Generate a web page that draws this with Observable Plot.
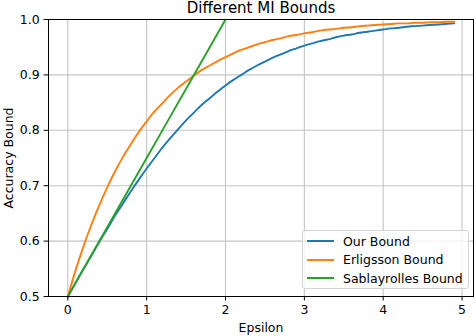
<!DOCTYPE html>
<html>
<head>
<meta charset="utf-8">
<script src="https://cdn.jsdelivr.net/npm/d3@7"></script>
<script src="https://cdn.jsdelivr.net/npm/@observablehq/plot@0.6"></script>
<style>
  html, body { margin: 0; padding: 0; background: white; }
  #wrap { position: relative; width: 476px; height: 336px; font-family: "DejaVu Sans", sans-serif; }
  #legend { position: absolute; left: 302px; top: 230px; width: 165px; height: 57px;
    border: 1px solid #d4d4d4; border-radius: 3px; background: rgba(255,255,255,0.8);
    font-size: 12.5px; color: black; }
  .row { position: absolute; left: 0; height: 18px; display: flex; align-items: center; }
  .sw { width: 27px; height: 2px; margin-left: 4px; margin-right: 9px; }
</style>
</head>
<body>
<div id="wrap"></div>
<script>
const titleText = "Different MI Bounds";
const xLabel = "Epsilon";
const yLabel = "Accuracy Bound";
const seriesNames = ["Our Bound", "Erligsson Bound", "Sablayrolles Bound"];
const seriesColors = ["#1f77b4", "#ff7f0e", "#2ca02c"];
const xTicks = [0, 1, 2, 3, 4, 5];
const yTicks = [0.5, 0.6, 0.7, 0.8, 0.9, 1.0];

const eps = [0,0.1,0.2,0.3,0.4,0.5,0.6,0.7,0.8,0.9,1.0,1.1,1.2,1.3,1.4,1.5,1.6,1.7,1.8,1.9,
  2.0,2.1,2.2,2.3,2.4,2.5,2.6,2.7,2.8,2.9,3.0,3.1,3.2,3.3,3.4,3.5,3.6,3.7,3.8,3.9,
  4.0,4.1,4.2,4.3,4.4,4.5,4.6,4.7,4.8,4.9];
const ourBound = [0.5,0.525,0.550,0.574,0.599,0.622,0.646,0.668,0.690,0.711,0.731,0.750,0.769,0.786,0.802,0.818,0.832,0.846,0.858,0.870,
  0.881,0.891,0.900,0.909,0.917,0.924,0.931,0.937,0.943,0.948,0.953,0.957,0.961,0.964,0.968,0.971,0.973,0.976,0.978,0.980,
  0.982,0.984,0.985,0.987,0.988,0.989,0.990,0.991,0.992,0.993];
const erligssonBound = [0.5,0.548,0.591,0.630,0.665,0.697,0.726,0.752,0.775,0.797,0.816,0.834,0.849,0.864,0.877,0.888,0.899,0.909,0.917,0.925,
  0.932,0.939,0.945,0.950,0.955,0.959,0.963,0.966,0.970,0.972,0.975,0.977,0.980,0.982,0.983,0.985,0.986,0.988,0.989,0.990,
  0.991,0.992,0.993,0.993,0.994,0.994,0.995,0.995,0.996,0.996];
const sabEps = [0, 0.5, 1.0, 1.5, 2.0];
const sablayrollesBound = [0.5, 0.625, 0.75, 0.875, 1.0];

const rows = [];
eps.forEach((e, i) => rows.push({eps: e, val: ourBound[i], s: seriesNames[0]}));
eps.forEach((e, i) => rows.push({eps: e, val: erligssonBound[i], s: seriesNames[1]}));
sabEps.forEach((e, i) => rows.push({eps: e, val: sablayrollesBound[i], s: seriesNames[2]}));

const chart = Plot.plot({
  width: 476, height: 336,
  marginLeft: 48, marginRight: 3, marginTop: 19, marginBottom: 40,
  style: {fontFamily: "DejaVu Sans, sans-serif", fontSize: "12.5px", background: "white", color: "black", overflow: "visible"},
  x: {domain: [-0.245, 5.145], label: null},
  y: {domain: [0.5, 1.0], label: null},
  color: {domain: seriesNames, range: seriesColors},
  marks: [
    Plot.gridX(xTicks, {stroke: "#c4c4c4", strokeOpacity: 1, strokeWidth: 1.1}),
    Plot.gridY(yTicks, {stroke: "#c4c4c4", strokeOpacity: 1, strokeWidth: 1.1}),
    Plot.line(rows, {x: "eps", y: "val", z: "s", stroke: "s", strokeWidth: 1.9, curve: "monotone-x"}),
    Plot.frame({stroke: "black", strokeWidth: 1}),
    Plot.axisX(xTicks, {tickSize: 4.4, tickPadding: 4.4, tickFormat: d => String(d), label: null, fontSize: 12.5}),
    Plot.axisY(yTicks, {tickSize: 4.4, tickPadding: 4.4, tickFormat: d3.format(".1f"), label: null, fontSize: 12.5}),
    Plot.text([xLabel], {frameAnchor: "bottom", lineAnchor: "middle", textAnchor: "middle", dy: 31.5, fontSize: 12.5, fill: "black"}),
    Plot.text([yLabel], {frameAnchor: "left", lineAnchor: "middle", textAnchor: "middle", dx: -40, rotate: -90, fontSize: 12.5, fill: "black"}),
    Plot.text([titleText], {frameAnchor: "top", lineAnchor: "middle", textAnchor: "middle", dy: -11.5, fontSize: 15, fill: "black"})
  ]
});
const wrap = document.getElementById("wrap");
wrap.appendChild(chart);

const legend = document.createElement("div");
legend.id = "legend";
seriesNames.forEach((name, i) => {
  const row = document.createElement("div");
  row.className = "row";
  row.style.top = (1 + i * 18.5) + "px";
  const sw = document.createElement("div");
  sw.className = "sw";
  sw.style.background = seriesColors[i];
  const label = document.createElement("span");
  label.textContent = name;
  row.appendChild(sw);
  row.appendChild(label);
  legend.appendChild(row);
});
wrap.appendChild(legend);
</script>
</body>
</html>
